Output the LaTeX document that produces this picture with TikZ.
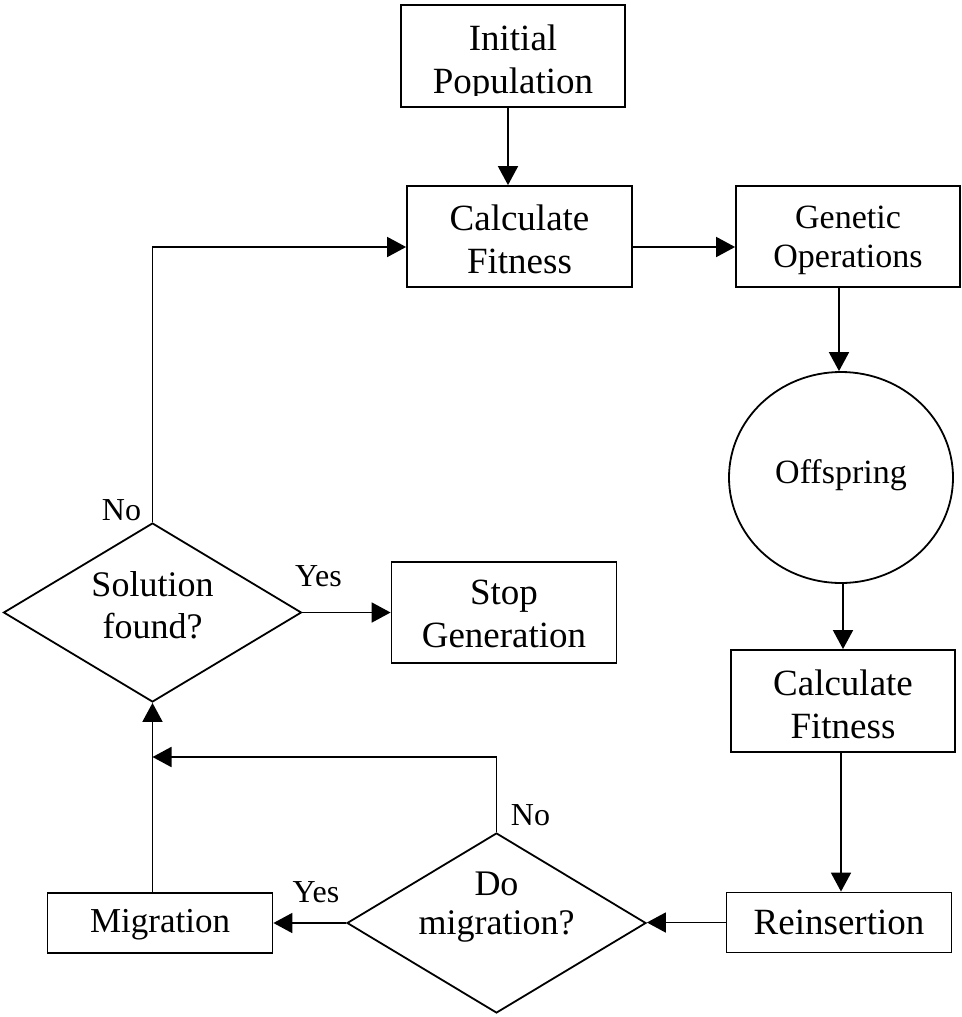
\documentclass[tikz,border=0pt]{standalone}
\usepackage{fontspec}
\setmainfont{Liberation Serif}
\usetikzlibrary{arrows.meta,shapes.geometric}
\begin{document}
\begin{tikzpicture}[x=1pt,y=-1pt,line width=1.8pt,
  shapebox/.style={draw,rectangle,inner sep=0pt},
  decision/.style={draw,diamond,inner sep=0pt},
  roundbox/.style={draw,ellipse,inner sep=0pt},
  txt/.style={inner sep=0pt,align=center,font=\fontsize{37}{43}\selectfont},
  txtsmall/.style={inner sep=0pt,align=center,font=\fontsize{34}{39}\selectfont},
  txtmid/.style={inner sep=0pt,align=center,font=\fontsize{36}{42}\selectfont},
  lbl/.style={inner sep=0pt,font=\fontsize{32}{38}\selectfont},
  arr/.style={-{Triangle[length=19pt,width=20pt]}}]
\useasboundingbox (0,0) rectangle (961,1017);

% shapes
\node[shapebox,minimum width=224pt,minimum height=102pt] (init) at (513,56) {};
\node[shapebox,minimum width=225pt,minimum height=101pt] (calc1) at (519.5,236.5) {};
\node[shapebox,minimum width=224pt,minimum height=101pt] (gen) at (848,236.5) {};
\node[roundbox,minimum width=224pt,minimum height=211pt] (off) at (841,477.5) {};
\node[shapebox,minimum width=224pt,minimum height=102pt] (calc2) at (843,701) {};
\node[shapebox,minimum width=225pt,minimum height=60pt] (reins) at (839,922.5) {};
\node[decision,minimum width=299pt,minimum height=180pt] (domig) at (496.5,923) {};
\node[shapebox,minimum width=225pt,minimum height=60pt] (mig) at (160,923) {};
\node[decision,minimum width=298pt,minimum height=179pt] (sol) at (152.5,612.5) {};
\node[shapebox,minimum width=225pt,minimum height=101pt] (stop) at (504,612.5) {};

% texts
\begin{scope}
  \clip (401,5) rectangle (625,95);
  \node[txt] (initT) at (513,63) {Initial\\Population};
\end{scope}
\node[txt] (calc1T) at (519.5,239) {Calculate\\Fitness};
\node[txtsmall] (genT) at (848,240.5) {Genetic\\Operations};
\node[txtsmall] (offT) at (841,475.5) {Offspring};
\node[txt] (calc2T) at (843,704) {Calculate\\Fitness};
\node[txt] (reinsT) at (839,922.5) {Reinsertion};
\node[txtmid,font=\fontsize{36}{39}\selectfont] (domigT) at (496.5,907.5) {Do\\migration?};
\node[txt,font=\fontsize{35}{40}\selectfont] (migT) at (160,925) {Migration};
\node[txtmid] (solT) at (152.5,605) {Solution\\found?};
\node[txt] (stopT) at (504,614) {Stop\\Generation};

% labels
\node[lbl] (yes1) at (318.5,576.5) {Yes};
\node[lbl] (no1) at (121.5,510.5) {No};
\node[lbl] (yes2) at (316,892.5) {Yes};
\node[lbl] (no2) at (530.5,815.5) {No};

% connectors
\coordinate (join) at (152.5,757);
\draw[arr] ([xshift=-5pt]init.south) -- ([xshift=-5pt]init.south |- calc1.north);
\draw[arr] ([yshift=-10.5pt]calc1.east) -- ([yshift=-10.5pt]calc1.east -| gen.west);
\draw[arr] ([xshift=-9pt]gen.south) -- ([xshift=-9pt]gen.south |- off.north);
\draw[arr] ([xshift=2pt]off.south) -- ([xshift=2pt]off.south |- calc2.north);
\draw[arr] ([xshift=-2pt]calc2.south) -- ([xshift=-2pt]calc2.south |- reins.north);
\draw[arr] (reins.west) -- (reins.west -| domig.east);
\draw[arr] (domig.west) -- (domig.west -| mig.east);
\draw[arr] (domig.north) |- (join);
\draw[arr] (mig.north -| sol.south) -- (sol.south);
\draw[arr] (sol.east) -- (sol.east -| stop.west);
\draw[arr] (sol.north) |- ([yshift=-10.5pt]calc1.west);
\end{tikzpicture}
\end{document}
